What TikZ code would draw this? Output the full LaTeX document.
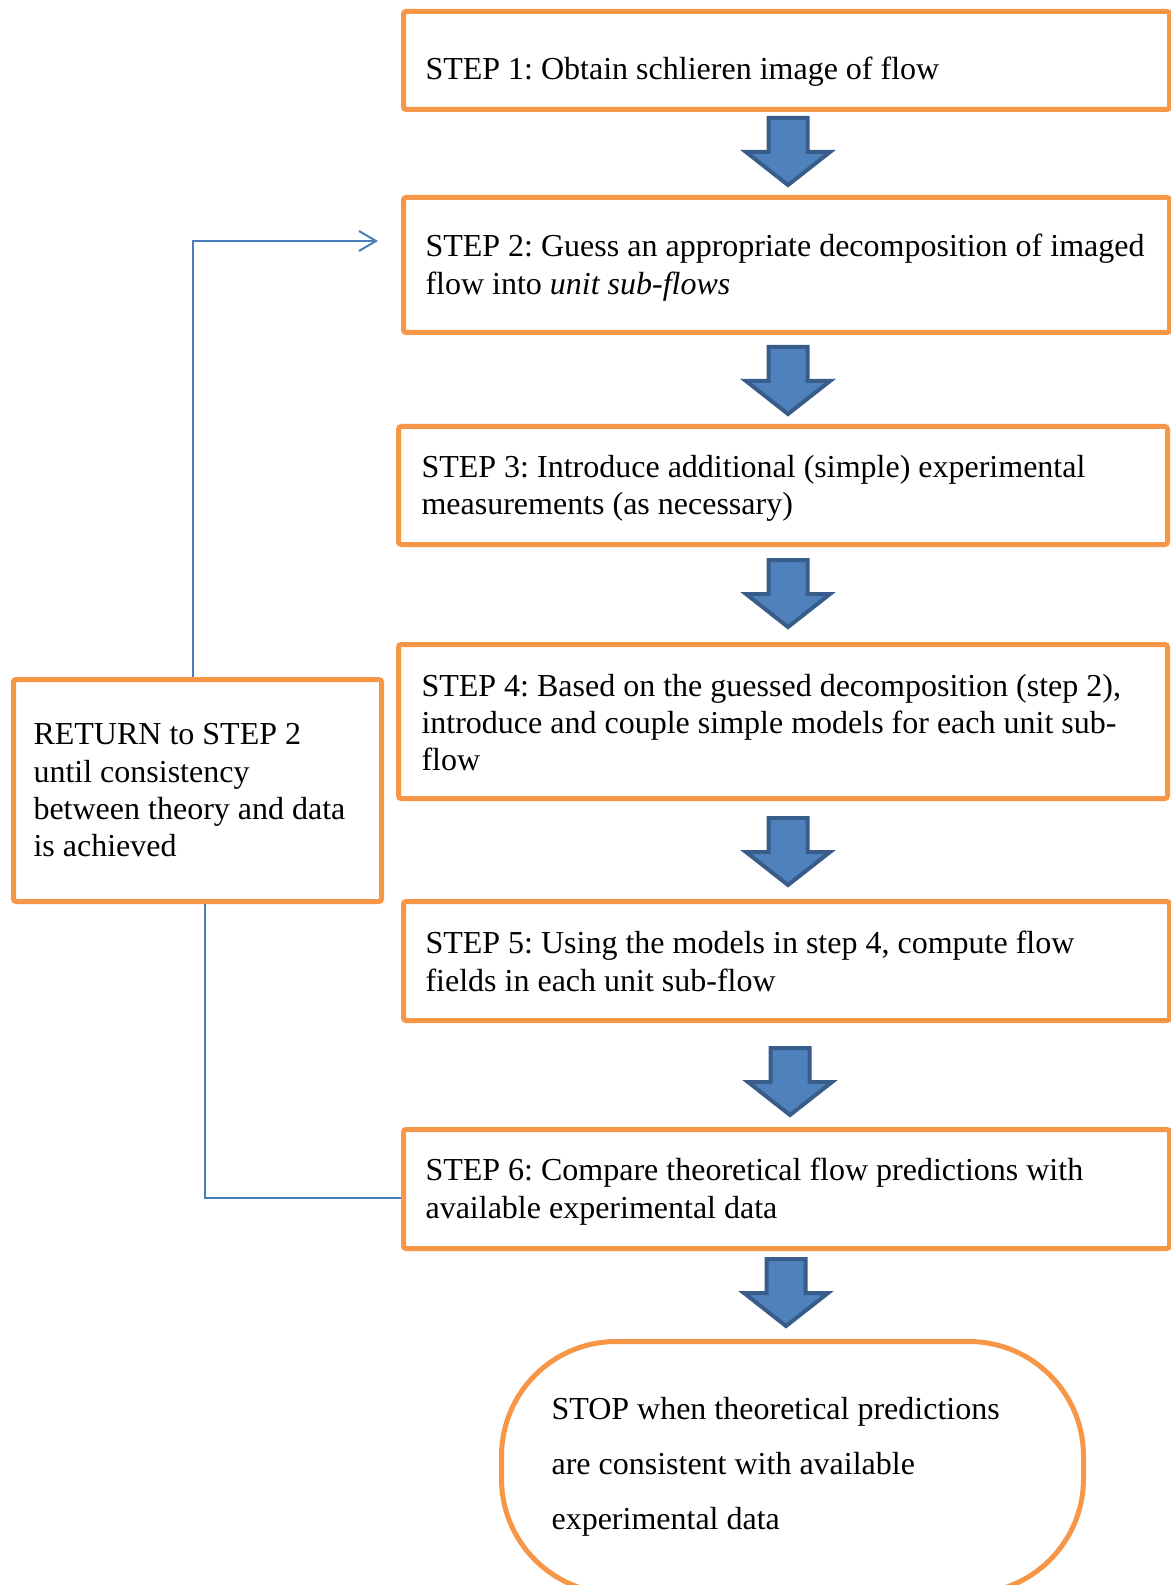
\documentclass[tikz,border=0pt]{standalone}
\usepackage{fontspec}
\setmainfont{Liberation Serif}
\frenchspacing
\usetikzlibrary{arrows.meta,calc}
\definecolor{boxorange}{HTML}{F79646}
\definecolor{arrowfill}{HTML}{4F81BD}
\definecolor{arrowline}{HTML}{385D8A}
\definecolor{connblue}{HTML}{4A7EBB}
\begin{document}
\begin{tikzpicture}[x=0.375pt,y=-0.375pt,
  box/.style={draw=boxorange, line width=1.875pt, rounded corners=1pt, rectangle, inner sep=0pt, anchor=north west},
  steptext/.style={anchor=west, inner sep=0pt, align=left, font=\fontsize{12pt}{14pt}\selectfont\frenchspacing},
  conn/.style={draw=connblue, line width=0.75pt},
  downarrow/.pic={\draw[fill=arrowfill, draw=arrowline, line width=1.5pt, line join=miter]
      (-19.5,0) -- (19.5,0) -- (19.5,34) -- (42,34) -- (0,67) -- (-42,34) -- (-19.5,34) -- cycle;}]
\useasboundingbox[fill=white] (0,0) rectangle (1170,1585);

% boxes
\node[box, minimum width=287.25pt, minimum height=36.75pt] (s1) at (401,9) {};
\node[box, minimum width=287.25pt, minimum height=50.625pt] (s2) at (401,195) {};
\node[box, minimum width=288.375pt, minimum height=44.25pt] (s3) at (396,424) {};
\node[box, minimum width=288.375pt, minimum height=57.75pt] (s4) at (396,642) {};
\node[box, minimum width=287.25pt, minimum height=44.625pt] (s5) at (401,899) {};
\node[box, minimum width=287.25pt, minimum height=44.625pt] (s6) at (401,1127) {};
\node[box, minimum width=138pt, minimum height=83.25pt] (ret) at (11,677) {};
\node[box, rounded corners=43pt, minimum width=218.25pt, minimum height=94.5pt] (stop) at (499,1339) {};

% texts
\node[steptext] (t1) at (425,72) {STEP 1: Obtain schlieren image of flow};
\node[steptext] (t2) at (425,267.5) {STEP 2: Guess an appropriate decomposition of imaged\\flow into \textit{unit sub-flows}};
\node[steptext] (t3) at (421,488.5) {STEP 3: Introduce additional (simple) experimental\\measurements (as necessary)};
\node[steptext] (t4) at (421,722.5) {STEP 4: Based on the guessed decomposition (step 2),\\introduce and couple simple models for each unit sub-\\flow};
\node[steptext] (t5) at (425,961.5) {STEP 5: Using the models in step 4, compute flow\\fields in each unit sub-flow};
\node[steptext] (t6) at (425,1191.5) {STEP 6: Compare theoretical flow predictions with\\available experimental data};
\node[steptext] (tr) at (33,790.5) {RETURN to STEP 2\\until consistency\\between theory and data\\is achieved};
\node[steptext, font=\fontsize{12pt}{20.6pt}\selectfont\frenchspacing] (ts) at (551,1466.5) {STOP when theoretical predictions\\are consistent with available\\experimental data};

% block arrows
\pic at (788,118) {downarrow};
\pic at (788,347) {downarrow};
\pic at (788,560) {downarrow};
\pic at (788,818) {downarrow};
\pic at (790,1048) {downarrow};
\pic at (786,1259) {downarrow};

% feedback connectors
\coordinate (c2in) at (378,241);
\draw[conn, -{Straight Barb[length=6.4pt,width=7.5pt,line width=0.75pt]}] ($(ret.north)+(-5,0)$) |- (c2in);
\draw[conn] ($(ret.south)+(7,0)$) |- ($(s6.west)+(0,8.5)$);
\end{tikzpicture}
\end{document}
